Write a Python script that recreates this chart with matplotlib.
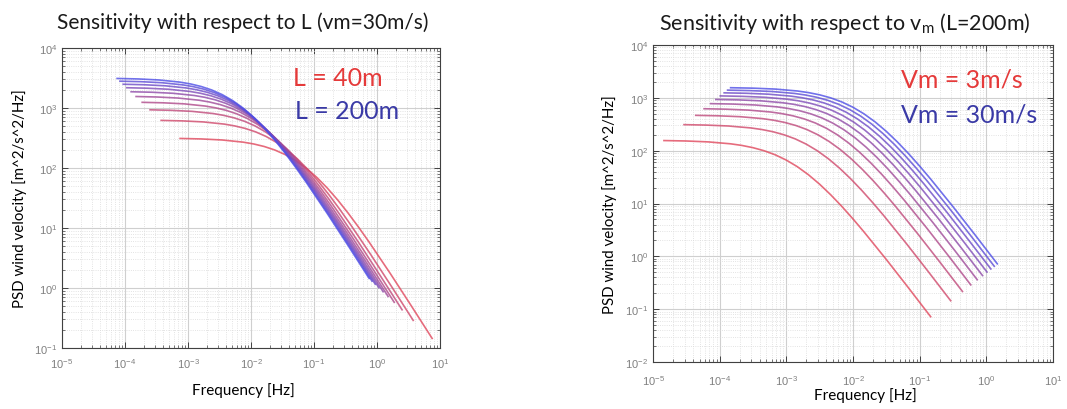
import numpy as np
import matplotlib
matplotlib.use("Agg")
import matplotlib.pyplot as plt
from matplotlib.ticker import LogLocator, NullFormatter

plt.rcParams['font.family'] = ['Lato', 'DejaVu Sans']
plt.rcParams['mathtext.fontset'] = 'custom'
plt.rcParams['mathtext.rm'] = 'Lato'

# left panel: PSD vs frequency for L = 40m ... 200m (vm = 30 m/s), red -> blue
l_freq = [
    [7.5e-4, 1.616e-3, 3.481e-3, 7.5e-3, 0.01101, 0.01616, 0.02372, 0.03481, 0.05110, 0.075, 0.1101, 0.1616, 0.2372, 0.3481, 0.5110, 0.75, 1.616, 3.481, 7.5],
    [3.75e-4, 8.08e-4, 1.741e-3, 3.75e-3, 5.50e-3, 8.08e-3, 0.01186, 0.01741, 0.02555, 0.0375, 0.05504, 0.0808, 0.1186, 0.1741, 0.2555, 0.375, 0.808, 1.741, 3.75],
    [2.5e-4, 5.39e-4, 1.160e-3, 2.5e-3, 3.67e-3, 5.39e-3, 7.91e-3, 0.01160, 0.01703, 0.025, 0.03670, 0.0539, 0.07906, 0.1160, 0.1703, 0.25, 0.539, 1.160, 2.5],
    [1.875e-4, 4.04e-4, 8.70e-4, 1.875e-3, 2.752e-3, 4.04e-3, 5.93e-3, 8.70e-3, 0.01277, 0.01875, 0.02752, 0.0404, 0.05929, 0.0870, 0.1277, 0.1875, 0.404, 0.870, 1.875],
    [1.5e-4, 3.23e-4, 6.96e-4, 1.5e-3, 2.202e-3, 3.23e-3, 4.74e-3, 6.96e-3, 0.01022, 0.015, 0.02202, 0.0323, 0.04743, 0.0696, 0.1022, 0.15, 0.323, 0.696, 1.5],
    [1.25e-4, 2.69e-4, 5.80e-4, 1.25e-3, 1.835e-3, 2.69e-3, 3.95e-3, 5.80e-3, 8.52e-3, 0.0125, 0.01835, 0.0269, 0.03953, 0.0580, 0.0852, 0.125, 0.269, 0.580, 1.25],
    [1.071e-4, 2.31e-4, 4.97e-4, 1.071e-3, 1.573e-3, 2.31e-3, 3.388e-3, 4.97e-3, 7.30e-3, 0.01071, 0.01573, 0.0231, 0.03388, 0.0497, 0.0730, 0.1071, 0.231, 0.497, 1.071],
    [9.38e-5, 2.02e-4, 4.35e-4, 9.38e-4, 1.376e-3, 2.02e-3, 2.965e-3, 4.35e-3, 6.39e-3, 9.38e-3, 0.01376, 0.0202, 0.02965, 0.0435, 0.0639, 0.0938, 0.202, 0.435, 0.938],
    [8.33e-5, 1.795e-4, 3.87e-4, 8.33e-4, 1.223e-3, 1.795e-3, 2.635e-3, 3.87e-3, 5.68e-3, 8.33e-3, 0.01223, 0.01795, 0.02635, 0.0387, 0.0568, 0.0833, 0.1795, 0.387, 0.833],
    [7.5e-5, 1.616e-4, 3.48e-4, 7.5e-4, 1.101e-3, 1.616e-3, 2.372e-3, 3.48e-3, 5.11e-3, 7.5e-3, 0.01101, 0.01616, 0.02372, 0.0348, 0.0511, 0.075, 0.1616, 0.348, 0.75],
]
l_psd = [
    [310.8, 305.0, 293.0, 269.6, 251.5, 228.3, 199.9, 167.4, 132.9, 99.5, 70.1, 46.6, 29.35, 17.68, 10.27, 5.81, 1.756, 0.508, 0.1443],
    [621.6, 609.9, 586.0, 539.2, 503.0, 456.6, 399.8, 334.8, 265.9, 199.1, 140.2, 93.2, 58.7, 35.4, 20.55, 11.62, 3.513, 1.017, 0.2886],
    [932.5, 914.9, 879.0, 808.7, 754.5, 684.8, 599.7, 502.2, 398.8, 298.6, 210.4, 139.7, 88.0, 53.0, 30.82, 17.42, 5.27, 1.525, 0.433],
    [1243, 1220, 1172, 1078, 1006, 913.1, 799.6, 669.5, 531.7, 398.1, 280.5, 186.3, 117.4, 70.7, 41.09, 23.23, 7.03, 2.034, 0.577],
    [1554, 1525, 1465, 1348, 1257, 1141, 999.4, 836.9, 664.7, 497.7, 350.6, 232.9, 146.7, 88.4, 51.36, 29.04, 8.78, 2.542, 0.721],
    [1865, 1830, 1758, 1617, 1509, 1370, 1199, 1004, 797.6, 597.2, 420.7, 279.5, 176.1, 106.1, 61.64, 34.85, 10.54, 3.051, 0.866],
    [2176, 2135, 2051, 1887, 1761, 1598, 1399, 1172, 930.5, 696.7, 490.8, 326.0, 205.4, 123.7, 71.91, 40.66, 12.30, 3.559, 1.010],
    [2487, 2440, 2344, 2157, 2012, 1826, 1599, 1339, 1063, 796.3, 560.9, 372.6, 234.8, 141.4, 82.19, 46.46, 14.05, 4.068, 1.154],
    [2797, 2745, 2637, 2426, 2264, 2055, 1799, 1506, 1196, 895.8, 631.1, 419.2, 264.1, 159.1, 92.46, 52.27, 15.81, 4.576, 1.299],
    [3108, 3050, 2930, 2696, 2515, 2283, 1999, 1674, 1329, 995.4, 701.2, 465.8, 293.5, 176.8, 102.7, 58.08, 17.56, 5.085, 1.443],
]

# right panel: PSD vs frequency for Vm = 3 ... 30 m/s (L = 200m), red -> blue
v_freq = [
    [1.46e-5, 3.145e-5, 6.78e-5, 1.46e-4, 2.143e-4, 3.145e-4, 4.617e-4, 6.78e-4, 9.95e-4, 1.46e-3, 2.143e-3, 3.145e-3, 4.617e-3, 6.78e-3, 9.95e-3, 0.0146, 0.03145, 0.0678, 0.146],
    [2.92e-5, 6.29e-5, 1.355e-4, 2.92e-4, 4.286e-4, 6.29e-4, 9.23e-4, 1.355e-3, 1.989e-3, 2.92e-3, 4.286e-3, 6.29e-3, 9.23e-3, 0.01355, 0.01989, 0.0292, 0.0629, 0.1355, 0.292],
    [4.38e-5, 9.43e-5, 2.033e-4, 4.38e-4, 6.43e-4, 9.43e-4, 1.385e-3, 2.033e-3, 2.984e-3, 4.38e-3, 6.43e-3, 9.43e-3, 0.01385, 0.02033, 0.02984, 0.0438, 0.0943, 0.2033, 0.438],
    [5.84e-5, 1.258e-4, 2.711e-4, 5.84e-4, 8.57e-4, 1.258e-3, 1.847e-3, 2.711e-3, 3.979e-3, 5.84e-3, 8.57e-3, 0.01258, 0.01847, 0.02711, 0.03979, 0.0584, 0.1258, 0.2711, 0.584],
    [7.30e-5, 1.572e-4, 3.389e-4, 7.30e-4, 1.0715e-3, 1.572e-3, 2.308e-3, 3.389e-3, 4.973e-3, 7.30e-3, 0.010715, 0.01572, 0.02308, 0.03389, 0.04973, 0.0730, 0.1572, 0.3389, 0.730],
    [8.76e-5, 1.887e-4, 4.066e-4, 8.76e-4, 1.286e-3, 1.887e-3, 2.770e-3, 4.066e-3, 5.97e-3, 8.76e-3, 0.01286, 0.01887, 0.02770, 0.04066, 0.0597, 0.0876, 0.1887, 0.4066, 0.876],
    [1.022e-4, 2.201e-4, 4.744e-4, 1.022e-3, 1.500e-3, 2.201e-3, 3.232e-3, 4.744e-3, 6.96e-3, 0.01022, 0.01500, 0.02201, 0.03232, 0.04744, 0.0696, 0.1022, 0.2201, 0.4744, 1.022],
    [1.168e-4, 2.516e-4, 5.42e-4, 1.168e-3, 1.714e-3, 2.516e-3, 3.694e-3, 5.42e-3, 7.96e-3, 0.01168, 0.01714, 0.02516, 0.03694, 0.0542, 0.0796, 0.1168, 0.2516, 0.542, 1.168],
    [1.314e-4, 2.830e-4, 6.10e-4, 1.314e-3, 1.929e-3, 2.830e-3, 4.155e-3, 6.10e-3, 8.95e-3, 0.01314, 0.01929, 0.0283, 0.04155, 0.0610, 0.0895, 0.1314, 0.283, 0.610, 1.314],
    [1.46e-4, 3.145e-4, 6.78e-4, 1.46e-3, 2.143e-3, 3.145e-3, 4.617e-3, 6.78e-3, 9.95e-3, 0.0146, 0.02143, 0.03145, 0.04617, 0.0678, 0.0995, 0.146, 0.3145, 0.678, 1.46],
]
v_psd = [
    [155.4, 152.5, 146.5, 134.8, 125.8, 114.1, 99.9, 83.7, 66.5, 49.8, 35.06, 23.29, 14.67, 8.84, 5.14, 2.904, 0.878, 0.254, 0.0721],
    [310.8, 305.0, 293.0, 269.6, 251.5, 228.3, 199.9, 167.4, 132.9, 99.5, 70.1, 46.6, 29.35, 17.68, 10.27, 5.81, 1.756, 0.508, 0.1443],
    [466.2, 457.5, 439.5, 404.4, 377.3, 342.4, 299.8, 251.1, 199.4, 149.3, 105.2, 69.9, 44.0, 26.52, 15.41, 8.71, 2.635, 0.763, 0.2164],
    [621.6, 609.9, 586.0, 539.2, 503.0, 456.6, 399.8, 334.8, 265.9, 199.1, 140.2, 93.2, 58.7, 35.4, 20.55, 11.62, 3.513, 1.017, 0.2886],
    [777.0, 762.4, 732.5, 674.0, 628.8, 570.7, 499.7, 418.5, 332.3, 248.9, 175.3, 116.4, 73.4, 44.19, 25.68, 14.52, 4.39, 1.271, 0.3607],
    [932.5, 914.9, 879.0, 808.7, 754.5, 684.8, 599.7, 502.2, 398.8, 298.6, 210.4, 139.7, 88.0, 53.0, 30.82, 17.42, 5.27, 1.525, 0.433],
    [1088, 1067, 1025, 943.5, 880.3, 799.0, 699.6, 585.8, 465.3, 348.4, 245.4, 163.0, 102.7, 61.87, 35.96, 20.33, 6.15, 1.780, 0.505],
    [1243, 1220, 1172, 1078, 1006, 913.1, 799.6, 669.5, 531.7, 398.1, 280.5, 186.3, 117.4, 70.7, 41.09, 23.23, 7.03, 2.034, 0.577],
    [1399, 1372, 1318, 1213, 1132, 1027, 899.5, 753.2, 598.2, 447.9, 315.5, 209.6, 132.1, 79.5, 46.23, 26.14, 7.90, 2.288, 0.649],
    [1554, 1525, 1465, 1348, 1257, 1141, 999.4, 836.9, 664.7, 497.7, 350.6, 232.9, 146.7, 88.4, 51.36, 29.04, 8.78, 2.542, 0.721],
]

red = np.array([0.88, 0.28, 0.36])
blue = np.array([0.30, 0.30, 0.90])


def style_axes(ax, ymin, ymax):
    ax.set_xscale('log')
    ax.set_yscale('log')
    ax.set_xlim(1e-5, 1e1)
    ax.set_ylim(ymin, ymax)
    ax.xaxis.set_major_locator(LogLocator(base=10, numticks=20))
    ax.yaxis.set_major_locator(LogLocator(base=10, numticks=20))
    ax.xaxis.set_minor_locator(LogLocator(base=10, subs=np.arange(2, 10), numticks=20))
    ax.yaxis.set_minor_locator(LogLocator(base=10, subs=np.arange(2, 10), numticks=20))
    ax.xaxis.set_minor_formatter(NullFormatter())
    ax.yaxis.set_minor_formatter(NullFormatter())
    ax.grid(which='major', color='#cfcfcf', lw=0.8)
    ax.grid(which='minor', color='#dadada', lw=0.6, ls=':')
    ax.set_axisbelow(True)
    ax.tick_params(which='both', direction='in', top=True, right=True, color='#404040')
    ax.tick_params(which='major', length=4, width=0.7, labelsize=8, labelcolor='#808080')
    ax.tick_params(which='minor', length=2, width=0.5)
    for t in ax.get_xticklabels() + ax.get_yticklabels():
        t.set_family(['Liberation Sans', 'DejaVu Sans'])
    for s in ax.spines.values():
        s.set_color('#404040')
        s.set_linewidth(0.8)


fig = plt.figure(figsize=(10.67, 4.1), dpi=100)
ax1 = fig.add_axes([0.0581, 0.1488, 0.3543, 0.7317])
ax2 = fig.add_axes([0.6120, 0.1146, 0.3749, 0.7732])

n = len(l_freq)
for i in range(n):
    t = i / (n - 1)
    c = (1 - t) * red + t * blue
    ax1.plot(l_freq[i], l_psd[i], color=c, lw=1.2, alpha=0.8)

n = len(v_freq)
for i in range(n):
    t = i / (n - 1)
    c = (1 - t) * red + t * blue
    ax2.plot(v_freq[i], v_psd[i], color=c, lw=1.2, alpha=0.8)

style_axes(ax1, 1e-1, 1e4)
style_axes(ax2, 1e-2, 1e4)
ax1.tick_params(which='major', axis='x', pad=6)
ax2.tick_params(which='major', axis='x', pad=8)

ax1.set_xlabel("Frequency [Hz]", fontsize=11)
ax1.set_ylabel("PSD wind velocity [m^2/s^2/Hz]", fontsize=10.8)
ax1.xaxis.set_label_coords(0.481, -0.137)
ax1.yaxis.set_label_coords(-0.112, 0.5)
ax2.set_xlabel("Frequency [Hz]", fontsize=11)
ax2.set_ylabel("PSD wind velocity [m^2/s^2/Hz]", fontsize=10.8)
ax2.xaxis.set_label_coords(0.53, -0.104)
ax2.yaxis.set_label_coords(-0.1075, 0.5)
for lab in [ax1.xaxis.label, ax1.yaxis.label, ax2.xaxis.label, ax2.yaxis.label]:
    lab.set_va('center')

fig.text(243 / 1067, 1 - 23 / 410, "Sensitivity with respect to L (vm=30m/s)",
         fontsize=15, ha='center', va='center', color='#1a1a1a')
fig.text(844.5 / 1067, 1 - 23 / 410, r"Sensitivity with respect to v$\mathregular{_m}$ (L=200m)",
         fontsize=15.5, ha='center', va='center', color='#1a1a1a')

ax1.text(0.611, 0.903, "L = 40m", transform=ax1.transAxes, fontsize=18,
         color='#e53a3a', ha='left', va='center')
ax1.text(0.616, 0.791, "L = 200m", transform=ax1.transAxes, fontsize=18,
         color='#3a3aa6', ha='left', va='center')
ax2.text(0.619, 0.893, "Vm = 3m/s", transform=ax2.transAxes, fontsize=18,
         color='#e53a3a', ha='left', va='center')
ax2.text(0.619, 0.782, "Vm = 30m/s", transform=ax2.transAxes, fontsize=18,
         color='#3a3aa6', ha='left', va='center')

plt.savefig("out.png", dpi=100)
